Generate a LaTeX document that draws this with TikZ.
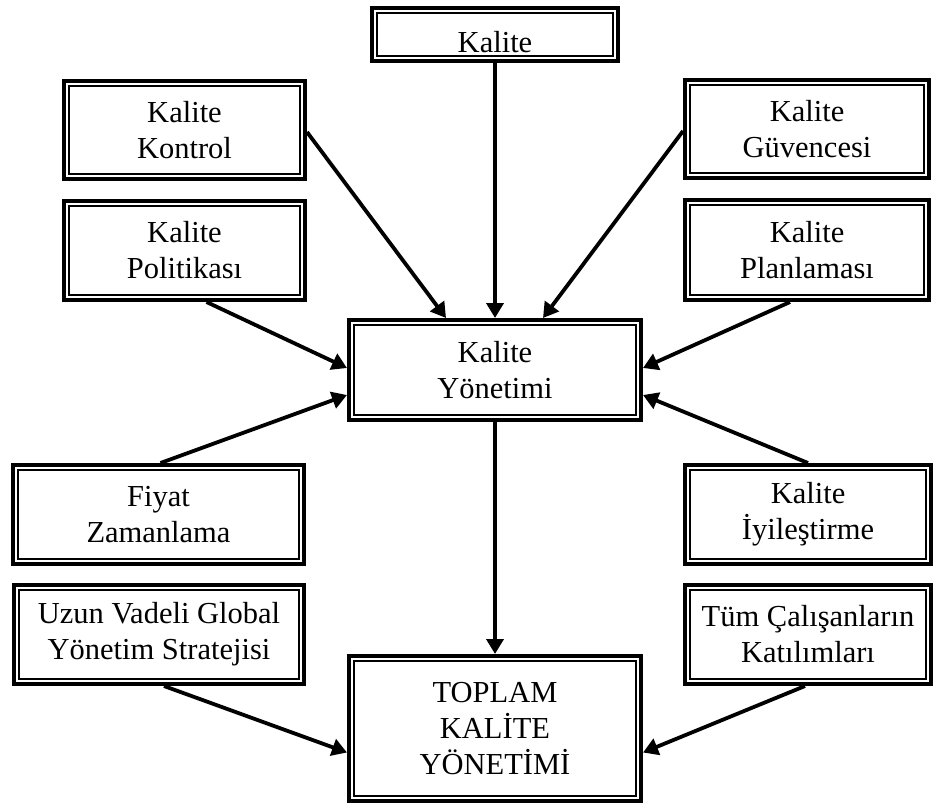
\documentclass[tikz,border=0pt]{standalone}
\usepackage{fontspec}
\setmainfont{Liberation Serif}
\usetikzlibrary{arrows.meta}

\begin{document}
\begin{tikzpicture}[x=1pt,y=-1pt,
  dbox/.style={rectangle, draw, line width=3.8pt, inner sep=0pt, align=center,
    font=\fontsize{30.5}{36}\selectfont,
    path picture={\draw[line width=2pt]
      ([shift={(4.9pt,4.9pt)}]path picture bounding box.south west) rectangle
      ([shift={(-4.9pt,-4.9pt)}]path picture bounding box.north east);}},
  link/.style={line width=3.8pt, -{Triangle[length=15pt,width=17pt]}}]

\useasboundingbox[fill=white] (0,0) rectangle (944,805);

% boxes
\node[dbox, minimum width=246.2pt, minimum height=53.2pt, text height=37pt, text depth=0pt] (kal) at (495,34.5) {Kalite};
\node[dbox, minimum width=241.2pt, minimum height=98.2pt] (kon) at (184.5,130) {Kalite\\Kontrol};
\node[dbox, minimum width=244.2pt, minimum height=98.2pt] (guv) at (807,129) {Kalite\\Güvencesi};
\node[dbox, minimum width=241.2pt, minimum height=99.2pt] (pol) at (184.5,250.5) {Kalite\\Politikası};
\node[dbox, minimum width=244.2pt, minimum height=100.2pt] (pla) at (807,250) {Kalite\\Planlaması};
\node[dbox, minimum width=292.2pt, minimum height=100.2pt] (yon) at (495,370) {Kalite\\Yönetimi};
\node[dbox, minimum width=291.2pt, minimum height=99.2pt] (fiy) at (158.5,514.5) {Fiyat\\Zamanlama};
\node[dbox, minimum width=246.2pt, minimum height=99.2pt] (iyi) at (808,514.5) {Kalite\\İyileştirme};
\node[dbox, minimum width=290.2pt, minimum height=99.2pt] (uzu) at (159,634.5) {Uzun Vadeli Global\\Yönetim Stratejisi};
\node[dbox, minimum width=246.2pt, minimum height=99.2pt] (tum) at (808,634.5) {Tüm Çalışanların\\Katılımları};
\node[dbox, minimum width=292.2pt, minimum height=145.2pt] (top) at (495,728.5) {TOPLAM\\KALİTE\\YÖNETİMİ};

% connectors
\draw[link] (kal.south) -- (yon.north);
\draw[link] ([yshift=-2pt]kon.east) -- ([xshift=-49pt]yon.north);
\draw[link] ([yshift=-2pt]guv.west) -- ([xshift=48pt]yon.north);
\draw[link] ([xshift=22pt]pol.south) -- ([yshift=2pt]yon.west);
\draw[link] ([xshift=-17pt]pla.south) -- ([yshift=2pt]yon.east);
\draw[link] ([xshift=2pt]fiy.north) -- ([yshift=-25pt]yon.west);
\draw[link] (iyi.north) -- ([yshift=-25pt]yon.east);
\draw[link] (yon.south) -- (top.north);
\draw[link] ([xshift=5pt]uzu.south) -- ([yshift=-24pt]top.west);
\draw[link] ([xshift=-3pt]tum.south) -- ([yshift=-24pt]top.east);
\end{tikzpicture}
\end{document}
